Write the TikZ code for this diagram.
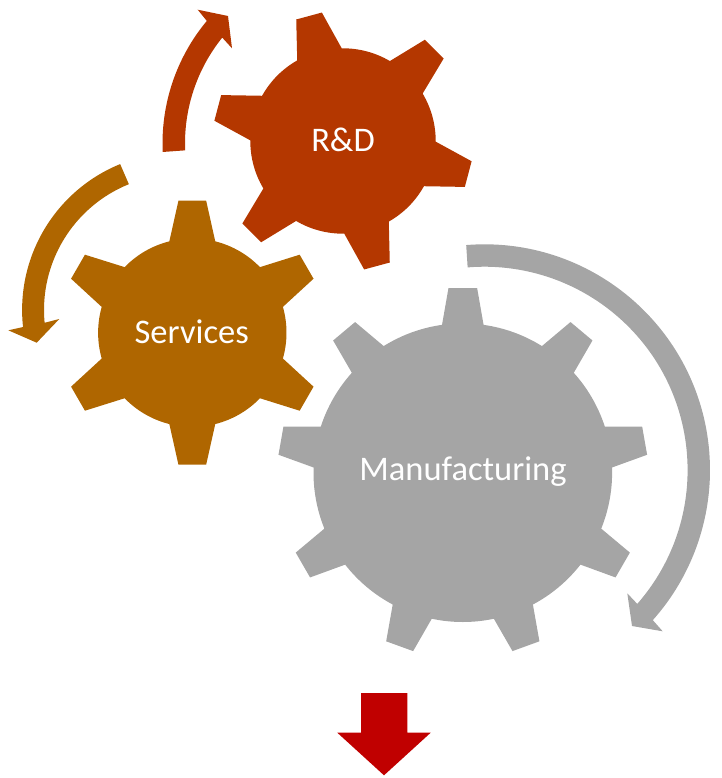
\documentclass[tikz,border=0pt]{standalone}
\usepackage{fontspec}
\setmainfont{Carlito}
\definecolor{rdcol}{HTML}{B43700}
\definecolor{svcol}{HTML}{AF6600}
\definecolor{mfcol}{HTML}{A5A5A5}
\definecolor{downcol}{HTML}{C00000}
\tikzset{gearlabel/.style={text=white,anchor=base,inner sep=0pt,font=\fontsize{34.5}{37}\selectfont}}
% cx, cy, body radius, tip radius, root half angle, tip half angle, rotation, teeth, colour
\newcommand{\gearshape}[9]{%
  \begin{scope}[shift={(#1,#2)}]
    \fill[#9] ({#7-#5}:#3)
      \foreach \k [evaluate=\k as \t using #7+\k*360/#8] in {0,...,\numexpr#8-1\relax} {
        -- ({\t-#5}:#3) -- ({\t-#6}:#4) -- ({\t+#6}:#4) -- ({\t+#5}:#3)
        arc[start angle={\t+#5}, end angle={\t+360/#8-#5}, radius=#3]
      } -- cycle;
  \end{scope}}
% cx, cy, outer radius, inner radius, tail angle outer, tail angle inner, end angle outer, end angle inner, colour; head points in \headpts
\newcommand{\curvedarrow}[9]{%
  \fill[#9] ([shift={(#1,#2)}]#5:#3) arc[start angle=#5, end angle=#7, radius=#3] \headpts
     -- ([shift={(#1,#2)}]#8:#4) arc[start angle=#8, end angle=#6, radius=#4] -- cycle;}
\begin{document}
\begin{tikzpicture}[x=1pt,y=1pt,yscale=-1]
\useasboundingbox (0,0) rectangle (721,778);
% arrows
\def\headpts{-- (197.7,9.7) -- (228,16) -- (232,48.3)}
\curvedarrow{353.7}{143.3}{191.2}{168.7}{177.4}{177.6}{219.8}{218.8}{rdcol}
\def\headpts{-- (8.3,330.3) -- (36.7,342.7) -- (59.3,319)}
\curvedarrow{179.7}{310}{157.6}{135.7}{247.8}{248}{173.8}{174.6}{svcol}
\def\headpts{-- (662.7,631.3) -- (632,626) -- (627.3,593.3)}
\curvedarrow{484.3}{470}{225.7}{203.3}{-94.6}{-94.7}{41.7}{41.2}{mfcol}
% gears
\gearshape{343}{141}{92.7}{130.2}{14.4}{5.85}{-105.2}{6}{rdcol}
\gearshape{192.3}{332.7}{94.2}{132.7}{14.1}{6}{-90}{6}{svcol}
\gearshape{462.8}{472.7}{149.3}{185.2}{8}{4.44}{-90}{9}{mfcol}
% labels
\node[gearlabel] (rd) at (343,152) {R\&D};
\node[gearlabel] (sv) at (191.7,343.5) {Services};
\node[gearlabel] (mf) at (463,480) {Manufacturing};
% down arrow
\fill[downcol] (361,693) -- (407.3,693) -- (407.3,732.7) -- (430.7,732.7) -- (384,775.3) -- (337.3,732.7) -- (361,732.7) -- cycle;
\end{tikzpicture}
\end{document}
